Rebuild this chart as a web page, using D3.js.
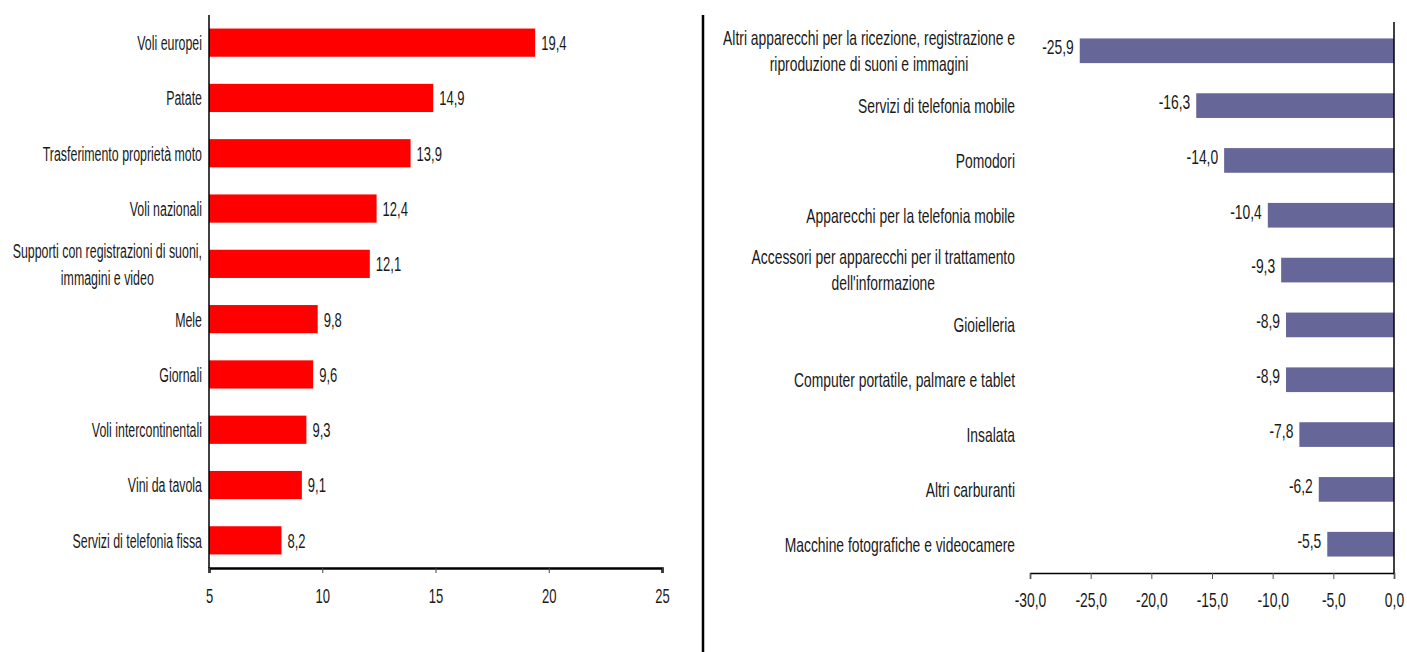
<!DOCTYPE html>
<html>
<head>
<meta charset="utf-8">
<script src="https://cdn.jsdelivr.net/npm/d3@7"></script>
<style>
  html, body { margin: 0; padding: 0; background: #fff; }
  svg { display: block; font-family: "Liberation Sans", Arial, sans-serif; }
</style>
</head>
<body>
<svg id="chart" width="1407" height="652"></svg>
<script>
// Rincari: prodotti con le variazioni più alte
const upCategories = [
  "Voli europei",
  "Patate",
  "Trasferimento proprietà moto",
  "Voli nazionali",
  "Supporti con registrazioni di suoni,|immagini e video",
  "Mele",
  "Giornali",
  "Voli intercontinentali",
  "Vini da tavola",
  "Servizi di telefonia fissa"
];
const upValues = [19.4, 14.9, 13.9, 12.4, 12.1, 9.8, 9.6, 9.3, 9.1, 8.2];
const upTicks = [5, 10, 15, 20, 25];

// Ribassi: prodotti con le variazioni più basse
const downCategories = [
  "Altri apparecchi per la ricezione, registrazione e|riproduzione di suoni e immagini",
  "Servizi di telefonia mobile",
  "Pomodori",
  "Apparecchi per la telefonia mobile",
  "Accessori per apparecchi per il trattamento|dell'informazione",
  "Gioielleria",
  "Computer portatile, palmare e tablet",
  "Insalata",
  "Altri carburanti",
  "Macchine fotografiche e videocamere"
];
const downValues = [-25.9, -16.3, -14.0, -10.4, -9.3, -8.9, -8.9, -7.8, -6.2, -5.5];
const downTicks = [-30, -25, -20, -15, -10, -5, 0];

const svg = d3.select("#chart");
const FS = 21;                       // font size of every text
const fmt1 = v => d3.format(".1f")(v).replace("−", "-").replace(".", ",");

// condensed text: horizontal squeeze around the anchor point
function narrowText(parent, x, y, text, sx, anchor, lineH) {
  const lines = text.split("|");
  const off = -(lines.length - 1) * lineH / 2 + 0.35 * FS;
  const multi = lines.length > 1;
  const t = parent.append("text")
    .attr("text-anchor", multi ? "middle" : anchor)
    .attr("font-size", FS)
    .attr("fill", "#1a1a1a");
  lines.forEach((l, i) => {
    t.append("tspan").attr("x", 0).attr("dy", i === 0 ? off : lineH).text(l);
  });
  let tx = x;
  if (multi) {
    // wrapped labels: lines centred on each other, block aligned to the anchor
    const w = t.node().getBBox().width * sx;
    tx = anchor === "end" ? x - w / 2 : anchor === "start" ? x + w / 2 : x;
  }
  t.attr("transform", `translate(${tx},${y}) scale(${sx},1)`);
  return t;
}

// ---------- Left panel ----------
{
  const x = d3.scaleLinear().domain([5, 25]).range([209, 662]);
  const y = d3.scaleBand().domain(upCategories).range([15, 568]).paddingInner(0.49).paddingOuter(0.245);
  const g = svg.append("g");

  g.selectAll("rect").data(upCategories).join("rect")
    .attr("x", x(5))
    .attr("y", d => y(d))
    .attr("width", (d, i) => x(upValues[i]) - x(5))
    .attr("height", y.bandwidth())
    .attr("fill", "#ff0000");

  upCategories.forEach((d, i) => {
    const cy = y(d) + y.bandwidth() / 2;
    narrowText(g, x(upValues[i]) + 6, cy, fmt1(upValues[i]), 0.62, "start", 0);
    narrowText(g, 202, cy, d, 0.59, "end", 27);
  });

  // vertical category axis
  g.append("line").attr("x1", 209).attr("x2", 209).attr("y1", 15).attr("y2", 568)
    .attr("stroke", "#000").attr("stroke-width", 1.5);

  const ax = g.append("g").attr("transform", "translate(0,568)")
    .call(d3.axisBottom(x).tickValues(upTicks).tickSize(5).tickPadding(15).tickFormat(d3.format("d")));
  ax.select(".domain").attr("stroke", "#000").attr("stroke-width", 2.5);
  ax.selectAll(".tick line").attr("stroke", "#444");
  ax.selectAll(".tick text").attr("font-size", FS).attr("fill", "#1a1a1a")
    .attr("font-family", "Liberation Sans, Arial, sans-serif")
    .attr("transform", "scale(0.62,1)");
}

// divider
svg.append("line").attr("x1", 703).attr("x2", 703).attr("y1", 15).attr("y2", 652)
  .attr("stroke", "#000").attr("stroke-width", 2.5);

// ---------- Right panel ----------
{
  const x = d3.scaleLinear().domain([-30, 0]).range([1030, 1394]);
  const y = d3.scaleBand().domain(downCategories).range([22, 573]).paddingInner(0.55).paddingOuter(0.3);
  const g = svg.append("g");

  g.selectAll("rect").data(downCategories).join("rect")
    .attr("x", (d, i) => x(downValues[i]))
    .attr("y", d => y(d))
    .attr("width", (d, i) => x(0) - x(downValues[i]))
    .attr("height", y.bandwidth())
    .attr("fill", "#666699");

  downCategories.forEach((d, i) => {
    const cy = y(d) + y.bandwidth() / 2;
    narrowText(g, x(downValues[i]) - 6, cy - 4, fmt1(downValues[i]), 0.66, "end", 0);
    narrowText(g, 1015, cy, d, 0.66, "end", 26);
  });

  // zero line
  g.append("line").attr("x1", x(0)).attr("x2", x(0)).attr("y1", 22).attr("y2", 573)
    .attr("stroke", "#000").attr("stroke-width", 1.5);

  const ax = g.append("g").attr("transform", "translate(0,573)")
    .call(d3.axisBottom(x).tickValues(downTicks).tickSize(6).tickPadding(13).tickFormat(fmt1));
  ax.select(".domain").attr("stroke", "#000").attr("stroke-width", 1.5);
  ax.selectAll(".tick line").attr("stroke", "#555");
  ax.selectAll(".tick text").attr("font-size", FS).attr("fill", "#1a1a1a")
    .attr("font-family", "Liberation Sans, Arial, sans-serif")
    .attr("transform", "scale(0.66,1)");
}
</script>
</body>
</html>
